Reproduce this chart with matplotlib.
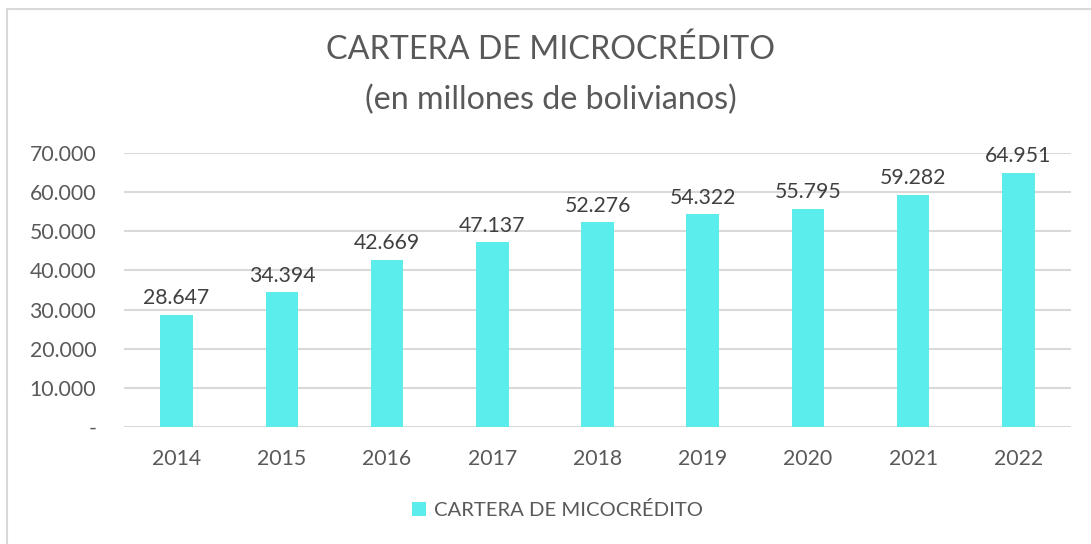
import matplotlib
matplotlib.use("Agg")
import matplotlib.pyplot as plt
from matplotlib.patches import Rectangle
from matplotlib.ticker import FuncFormatter

years = ["2014", "2015", "2016", "2017", "2018", "2019", "2020", "2021", "2022"]
values = [28647, 34394, 42669, 47137, 52276, 54322, 55795, 59282, 64951]
yticks = [0, 10000, 20000, 30000, 40000, 50000, 60000, 70000]
title_l1 = "CARTERA DE MICROCRÉDITO"
title_l2 = "(en millones de bolivianos)"
series_name = "CARTERA DE MICOCRÉDITO"

plt.rcParams['font.family'] = ['Lato', 'DejaVu Sans']
txt = "#595959"
W, H = 1091, 544
fig = plt.figure(figsize=(W / 100, H / 100), dpi=100)

# outer chart border (left/top visible)
fig.patches.append(Rectangle((7 / W, -0.1), 1.2, 1 - 9 / H + 0.1, transform=fig.transFigure,
                             fill=False, edgecolor="#D9D9D9", linewidth=1.5))

left, right = 124 / W, 1071 / W
bottom, top = 1 - 427 / H, 1 - 153 / H
ax = fig.add_axes([left, bottom, right - left, top - bottom])

def fmt(v):
    return f"{v:,.0f}".replace(",", ".")

x = list(range(len(years)))
bars = ax.bar(x, values, width=0.31, color="#5BECEC", label=series_name, zorder=3)
for xi, v in zip(x, values):
    ax.text(xi, v + 1700, fmt(v), ha="center", va="bottom", fontsize=15.3, color="#404040")

ax.set_xlim(-0.5, len(years) - 0.5)
ax.set_ylim(0, 70000)
ax.set_yticks(yticks)
ax.yaxis.set_major_formatter(FuncFormatter(lambda v, p: "-" if v == 0 else fmt(v)))
ax.set_xticks(x)
ax.set_xticklabels(years)
ax.tick_params(axis="both", length=0, labelsize=15.3, colors=txt)
ax.tick_params(axis="y", pad=20)
ax.tick_params(axis="x", pad=16)
ax.grid(axis="y", color="#D9D9D9", linewidth=1.5, zorder=0)
for s in ax.spines.values():
    s.set_visible(False)

fig.text(0.5 + 5 / W, 1 - 50 / H, title_l1, ha="center", va="center", fontsize=23.2, color=txt)
fig.text(0.5 + 5 / W, 1 - 100 / H, title_l2, ha="center", va="center", fontsize=23.2, color=txt)

leg = fig.legend(handles=[bars], labels=[series_name], loc="center",
                 bbox_to_anchor=(0.5 + 12 / W, 1 - 510 / H), frameon=False, fontsize=14.6,
                 handlelength=0.7, handleheight=0.7, handletextpad=0.4)
for t in leg.get_texts():
    t.set_color(txt)

fig.savefig("out.png", dpi=100)
